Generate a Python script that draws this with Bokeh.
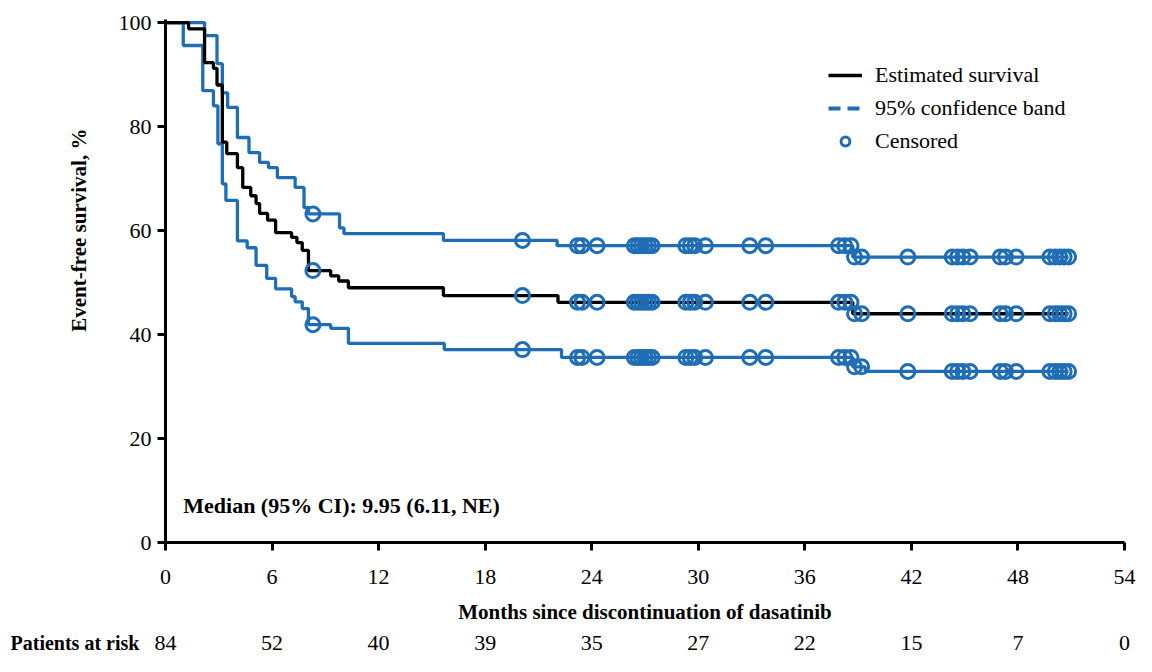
import numpy as np
from math import pi
from bokeh.plotting import figure
from bokeh.layouts import column, row
from bokeh.models import Range1d, Label, Legend, LegendItem, FixedTicker
from bokeh.core.properties import value
from bokeh.embed import file_html
from bokeh.resources import INLINE

# ---- data ----
est_t = [0, 1.3, 2.2, 2.7, 2.9, 3.2, 3.45, 4.05, 4.35, 4.8, 5.1, 5.3, 5.75, 6.2, 7.1, 7.4, 7.7, 8.05, 9.3, 9.75, 10.3, 15.65, 22.1, 38.7]
est_s = [100, 98.8, 92.3, 91.2, 88.0, 77.0, 74.8, 72.1, 68.3, 66.7, 65.2, 63.3, 62.0, 59.6, 58.7, 57.7, 56.2, 52.3, 51.3, 50.3, 49.0, 47.5, 46.2, 44.0]

up_t = [0, 2.2, 2.9, 3.2, 3.5, 4.05, 4.7, 5.3, 5.8, 6.3, 7.3, 7.8, 8.05, 9.8, 10.05, 15.65, 22.05, 38.7]
up_s = [100, 97.5, 92.1, 86.5, 83.7, 77.9, 75.0, 73.1, 72.1, 70.2, 68.3, 64.4, 63.2, 60.5, 59.4, 58.1, 57.1, 54.9]

lo_t = [0, 1.0, 2.1, 2.7, 2.95, 3.2, 3.4, 4.05, 4.6, 5.1, 5.7, 6.2, 7.1, 7.3, 7.7, 8.05, 9.3, 10.3, 15.7, 22.3, 38.7, 39.4]
lo_s = [100, 95.6, 86.9, 84.0, 76.7, 69.0, 65.8, 58.0, 56.7, 53.3, 50.8, 48.8, 47.3, 46.3, 45.0, 41.9, 41.2, 38.3, 37.1, 35.6, 33.8, 32.9]

cens_t = [8.3, 20.1, 23.2, 23.45, 24.3, 26.4, 26.6, 26.8, 27.0, 27.2, 27.4,
          29.3, 29.55, 29.8, 30.4, 32.9, 33.8, 37.9, 38.25, 38.6, 38.8, 39.2,
          41.8, 44.3, 44.6, 44.9, 45.3, 47.0, 47.3, 47.9, 49.8, 50.1, 50.35, 50.6, 50.85]

risk_months = [0, 6, 12, 18, 24, 30, 36, 42, 48, 54]
risk_n = [84, 52, 40, 39, 35, 27, 22, 15, 7, 0]

x_ticks = [0, 6, 12, 18, 24, 30, 36, 42, 48, 54]
y_ticks = [0, 20, 40, 60, 80, 100]

BLUE = "#1f6db4"
SERIF = "Liberation Serif"

# ---- layout geometry (pixels) ----
TOTAL_W, TOTAL_H = 1136, 656
LEFT_W = 110          # side panel holding the y title
MAIN_H = 628
FRAME_L, FRAME_R = 165, 1124   # frame edges on the page
X0, X1 = 0, 54
PXPM = (FRAME_R - FRAME_L) / (X1 - X0)


def step_at(ts, ss, t):
    i = np.searchsorted(np.array(ts), t, side="right") - 1
    return ss[i]


end_t = cens_t[-1]

p = figure(width=TOTAL_W - LEFT_W, height=MAIN_H, output_backend="svg", toolbar_location=None,
           x_range=Range1d(X0, X1), y_range=Range1d(0, 100.6),
           min_border_left=FRAME_L - LEFT_W, min_border_right=TOTAL_W - FRAME_R,
           min_border_top=19, min_border_bottom=MAIN_H - 542)
p.outline_line_color = None
p.xgrid.visible = False
p.ygrid.visible = False

for ts, ss in [(up_t, up_s), (lo_t, lo_s)]:
    p.step(x=ts + [end_t], y=ss + [ss[-1]], mode="after", line_color=BLUE, line_width=3.3)
r_est = p.step(x=est_t + [end_t], y=est_s + [est_s[-1]], mode="after", line_color="black", line_width=3.3)

cx, cy = [], []
for ts, ss in [(up_t, up_s), (est_t, est_s), (lo_t, lo_s)]:
    for t in cens_t:
        cx.append(t)
        cy.append(step_at(ts, ss, t))
r_cens = p.scatter(x=cx, y=cy, marker="circle", size=14, fill_color=None, line_color=BLUE, line_width=3)
r_dash = p.line(x=[np.nan], y=[np.nan], line_color=BLUE, line_width=4, line_dash="12 7")

for ax in (p.xaxis[0], p.yaxis[0]):
    ax.axis_line_width = 3
    ax.axis_line_color = "black"
    ax.major_tick_line_width = 3
    ax.major_tick_line_color = "black"
    ax.major_tick_out = 8
    ax.major_tick_in = 0
    ax.minor_tick_line_color = None
    ax.major_label_text_font = SERIF
    ax.major_label_text_font_size = "22px"
    ax.major_label_text_color = "black"
p.xaxis.ticker = FixedTicker(ticks=x_ticks)
p.yaxis.ticker = FixedTicker(ticks=y_ticks)
p.xaxis.major_label_standoff = 19
p.yaxis.major_label_standoff = 6
p.xaxis.axis_label = "Months since discontinuation of dasatinib"
p.xaxis.axis_label_text_font = SERIF
p.xaxis.axis_label_text_font_style = "bold"
p.xaxis.axis_label_text_font_size = "21px"
p.xaxis.axis_label_text_color = "black"
p.xaxis.axis_label_standoff = 13

legend = Legend(items=[LegendItem(label="Estimated survival", renderers=[r_est]),
                       LegendItem(label="95% confidence band", renderers=[r_dash]),
                       LegendItem(label="Censored", renderers=[r_cens])],
                location=(663, 388))
legend.border_line_color = None
legend.background_fill_alpha = 0
legend.padding = 0
legend.margin = 0
legend.spacing = 7
legend.glyph_width = 34
legend.glyph_height = 22
legend.label_height = 22
legend.label_standoff = 13
legend.label_text_font = SERIF
legend.label_text_font_size = "22px"
legend.label_text_color = "black"
p.add_layout(legend)

p.add_layout(Label(x=1.0, y=7.1, text="Median (95% CI): 9.95 (6.11, NE)", text_font=SERIF,
                   text_font_style="bold", text_font_size="22px", text_baseline="middle",
                   text_color="black"))

# ---- left panel: y-axis title ----
left = figure(width=LEFT_W, height=MAIN_H, output_backend="svg", toolbar_location=None,
              x_range=Range1d(0, LEFT_W), y_range=Range1d(MAIN_H, 0),
              x_axis_type=None, y_axis_type=None, min_border=0)
left.outline_line_color = None
left.grid.visible = False
left.text(x=[78], y=[253], text=["Event-free survival, %"], angle=pi / 2,
          text_font=value(SERIF), text_font_style="bold", text_font_size="21px",
          text_align="center", text_baseline="middle", text_color="black")

# ---- bottom panel: patients at risk ----
BOT_H = TOTAL_H - MAIN_H
bot = figure(width=TOTAL_W, height=BOT_H, output_backend="svg", toolbar_location=None,
             x_range=Range1d(X0 - FRAME_L / PXPM, X0 + (TOTAL_W - FRAME_L) / PXPM), y_range=Range1d(0, 1),
             x_axis_type=None, y_axis_type=None, min_border=0)
bot.outline_line_color = None
bot.grid.visible = False
bot.text(x=risk_months, y=[0.5] * len(risk_months), text=[str(n) for n in risk_n],
         text_font=value(SERIF), text_font_size="22px", text_align="center",
         text_baseline="middle", text_color="black")
bot.text(x=[X0 - (FRAME_L - 10) / PXPM], y=[0.5], text=["Patients at risk"],
         text_font=value(SERIF), text_font_style="bold", text_font_size="20px",
         text_align="left", text_baseline="middle", text_color="black")

layout = column(row(left, p, spacing=0), bot, spacing=0)
open("out.html", "w").write(file_html(layout, INLINE))
